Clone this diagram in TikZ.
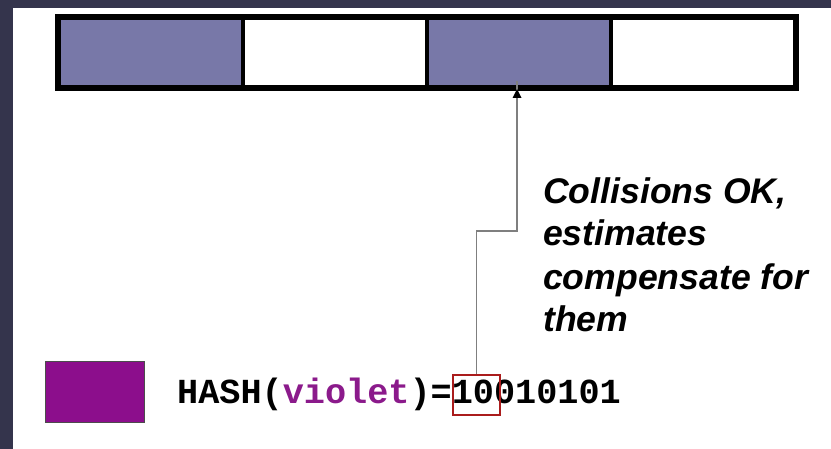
\documentclass[tikz,border=0pt]{standalone}
\usepackage{fontspec}
\setmainfont{Liberation Sans}
\newfontfamily\codefont{Liberation Mono}
\usetikzlibrary{arrows.meta}
\definecolor{slate}{HTML}{34344C}
\definecolor{cellfill}{HTML}{7878A8}
\definecolor{plum}{HTML}{8C0E8C}
\definecolor{plumtext}{HTML}{8B1A8B}
\definecolor{boxred}{HTML}{AA1C1C}
\definecolor{wire}{HTML}{7F7F7F}
\tikzset{
  cell/.style={draw=black, line width=4pt, minimum width=184pt, minimum height=69pt, inner sep=0pt},
  on/.style={cell, fill=cellfill},
  off/.style={cell, fill=white},
  wirepath/.style={draw=wire, line width=1.2pt},
  note/.style={font=\fontsize{35.6pt}{43pt}\selectfont\bfseries\itshape, align=left, inner sep=0pt},
  code/.style={font=\fontsize{35.2pt}{40pt}\selectfont\codefont\bfseries, inner sep=0pt},
}
\begin{document}
\begin{tikzpicture}[x=1pt, y=-1pt]
  % slide frame
  \fill[slate] (0,0) rectangle (831,449);
  \fill[white] (13,8) rectangle (831,449);
  \useasboundingbox (0,0) rectangle (831,449);

  % bit array
  \node[on]  (c1) at (151,52.5) {};
  \node[off] (c2) at (335,52.5) {};
  \node[on]  (c3) at (519,52.5) {};
  \node[off] (c4) at (703,52.5) {};
  \draw[line width=4pt] (c1.south west) rectangle (c4.north east);

  % colour sample and its hash
  \node[draw=black!70, line width=0.6pt, fill=plum, minimum width=99pt, minimum height=61pt, inner sep=0pt] (swatch) at (94.5,391.5) {};
  \node[code, anchor=base west] (hash) at (177,403) {HASH(\textcolor{plumtext}{violet})=10010101};
  \node[draw=boxred, line width=2pt, minimum width=47pt, minimum height=40pt, inner sep=0pt] (sel) at (476.5,395) {};

  % pointer from the selected bits to the array cell
  \coordinate (tip) at (517,89);
  \draw[wirepath] (sel.north) |- (517,231) -- ([yshift=8pt]tip);
  \fill[black] (tip) -- ++(-4.5,9) -- ++(9,0) -- cycle;

  \node[note, anchor=base west] (msg) at (543,332) {Collisions OK,\\estimates\\compensate for\\them};
\end{tikzpicture}
\end{document}
